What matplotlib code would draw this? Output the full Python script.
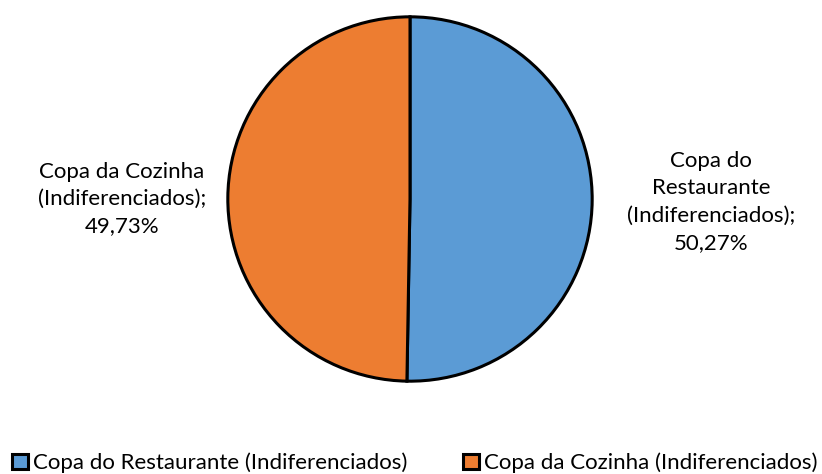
import matplotlib
matplotlib.use("Agg")
import matplotlib.pyplot as plt
from matplotlib.patches import Patch

labels = ["Copa do Restaurante (Indiferenciados)", "Copa da Cozinha (Indiferenciados)"]
label_text = ["Copa do\nRestaurante\n(Indiferenciados);\n50,27%", "Copa da Cozinha\n(Indiferenciados);\n49,73%"]
values = [50.27, 49.73]
colors = ["#5B9BD5", "#ED7D31"]

plt.rcParams['font.family'] = ['Lato', 'DejaVu Sans']

fig = plt.figure(figsize=(8.22, 4.74), dpi=100)
cx, cy, r = 410/822, (474-199)/474, 184
ax = fig.add_axes([cx - r/822, cy - r/474, 2*r/822, 2*r/474])
wedges, _ = ax.pie(values, colors=colors, startangle=90, counterclock=False,
                   wedgeprops=dict(edgecolor="black", linewidth=2.2))
ax.set_xlim(-1.01, 1.01)
ax.set_ylim(-1.01, 1.01)
ax.set_aspect('equal')
ax.axis('off')

fig.text(711/822, 1 - 202/474, label_text[0], ha='center', va='center', fontsize=16, linespacing=1.45)
fig.text(122/822, 1 - 199/474, label_text[1], ha='center', va='center', fontsize=16, linespacing=1.45)

xs = [12/822, 463/822]
for h_lab, c, x in zip(labels, colors, xs):
    h = Patch(facecolor=c, edgecolor='black', linewidth=2.2)
    fig.legend([h], [h_lab], loc='center left', bbox_to_anchor=(x, 1 - 463/474),
               frameon=False, fontsize=16, handlelength=0.7, handleheight=0.7,
               handletextpad=0.25, borderaxespad=0, borderpad=0)

fig.savefig("out.png", dpi=100)
